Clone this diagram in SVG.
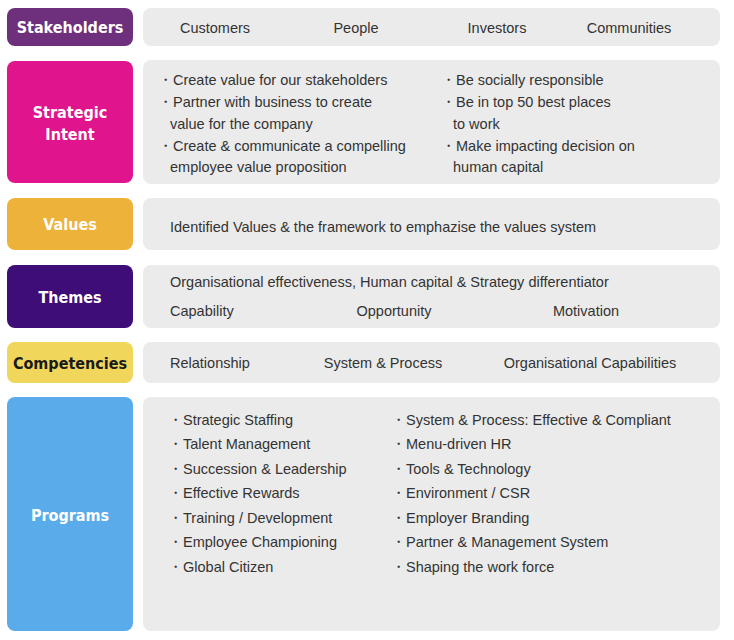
<svg xmlns="http://www.w3.org/2000/svg" width="734" height="640" viewBox="0 0 734 640">
<style>
.p{fill:#ebebeb}
.l{font-family:"DejaVu Sans Condensed","DejaVu Sans",sans-serif;font-weight:bold;font-size:16px;text-anchor:middle;fill:#fff}
.t{font-family:"Liberation Sans",Arial,sans-serif;font-size:14.5px;fill:#333}
.m{text-anchor:middle}
</style>
<rect width="734" height="640" fill="#fff"/>
<g id="stakeholders">
<rect x="7" y="8" width="126" height="38" rx="8" fill="#6e2f7c"/>
<text class="l" x="70" y="33">Stakeholders</text>
<rect class="p" x="143" y="8" width="577" height="38" rx="8"/>
<text class="t m" x="215" y="33">Customers</text>
<text class="t m" x="356" y="33">People</text>
<text class="t m" x="497" y="33">Investors</text>
<text class="t m" x="629" y="33">Communities</text>
</g>
<g id="intent">
<rect x="7" y="61" width="126" height="122" rx="8" fill="#e0148c"/>
<text class="l" x="70" y="118">Strategic</text>
<text class="l" x="70" y="140">Intent</text>
<rect class="p" x="143" y="60" width="577" height="124" rx="8"/>
<text class="t" x="158" y="85">・Create value for our stakeholders</text>
<text class="t" x="158" y="107">・Partner with business to create</text>
<text class="t" x="170" y="129">value for the company</text>
<text class="t" x="158" y="151">・Create &amp; communicate a compelling</text>
<text class="t" x="170" y="172">employee value proposition</text>
<text class="t" x="441" y="85">・Be socially responsible</text>
<text class="t" x="441" y="107">・Be in top 50 best places</text>
<text class="t" x="453" y="129">to work</text>
<text class="t" x="441" y="151">・Make impacting decision on</text>
<text class="t" x="453" y="172">human capital</text>
</g>
<g id="values">
<rect x="7" y="198" width="126" height="52" rx="8" fill="#edb23a"/>
<text class="l" x="70" y="230">Values</text>
<rect class="p" x="143" y="198" width="577" height="52" rx="8"/>
<text class="t" x="170" y="232">Identified Values &amp; the framework to emphazise the values system</text>
</g>
<g id="themes">
<rect x="7" y="265" width="126" height="63" rx="8" fill="#3e0d77"/>
<text class="l" x="70" y="303">Themes</text>
<rect class="p" x="143" y="265" width="577" height="63" rx="8"/>
<text class="t" x="170" y="287">Organisational effectiveness, Human capital &amp; Strategy differentiator</text>
<text class="t" x="170" y="316">Capability</text>
<text class="t m" x="394" y="316">Opportunity</text>
<text class="t m" x="586" y="316">Motivation</text>
</g>
<g id="competencies">
<rect x="7" y="342" width="126" height="41" rx="8" fill="#f1d65c"/>
<text class="l" x="70" y="369" style="fill:#1a1a1a">Competencies</text>
<rect class="p" x="143" y="342" width="577" height="41" rx="8"/>
<text class="t" x="170" y="368">Relationship</text>
<text class="t m" x="383" y="368">System &amp; Process</text>
<text class="t m" x="590" y="368">Organisational Capabilities</text>
</g>
<g id="programs">
<rect x="7" y="397" width="126" height="234" rx="8" fill="#5aabea"/>
<text class="l" x="70" y="521">Programs</text>
<rect class="p" x="143" y="397" width="577" height="234" rx="8"/>
<text class="t" x="168" y="425">・Strategic Staffing</text>
<text class="t" x="168" y="449">・Talent Management</text>
<text class="t" x="168" y="474">・Succession &amp; Leadership</text>
<text class="t" x="168" y="498">・Effective Rewards</text>
<text class="t" x="168" y="523">・Training / Development</text>
<text class="t" x="168" y="547">・Employee Championing</text>
<text class="t" x="168" y="572">・Global Citizen</text>
<text class="t" x="391" y="425">・System &amp; Process: Effective &amp; Compliant</text>
<text class="t" x="391" y="449">・Menu-driven HR</text>
<text class="t" x="391" y="474">・Tools &amp; Technology</text>
<text class="t" x="391" y="498">・Environment / CSR</text>
<text class="t" x="391" y="523">・Employer Branding</text>
<text class="t" x="391" y="547">・Partner &amp; Management System</text>
<text class="t" x="391" y="572">・Shaping the work force</text>
</g>
<g id="connectors"/>
</svg>
